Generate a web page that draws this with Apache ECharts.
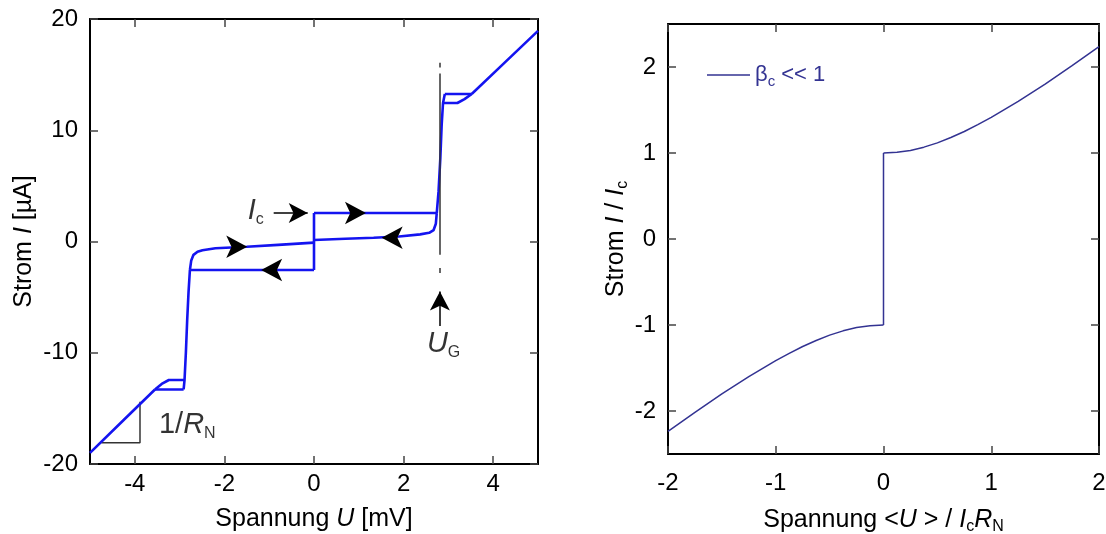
<!DOCTYPE html>
<html><head><meta charset="utf-8">
<script src="https://cdn.jsdelivr.net/npm/echarts@6/dist/echarts.min.js"></script>
<style>html,body{margin:0;padding:0;background:#fff}#c{width:1106px;height:534px}</style>
</head><body><div id="c"></div>
<script>
// ---------- Left panel: measured I-V curve (U in mV, I in µA) ----------
const negNormal    = [[-5,-19.0],[-4.3,-16.25],[-3.55,-13.3]];
const negLowerFlat = [[-3.55,-13.3],[-2.91,-13.3]];
const negUpperFlat = [[-3.55,-13.3],[-3.4,-12.8],[-3.24,-12.45],[-2.89,-12.45]];
const negGap       = [[-2.91,-13.3],[-2.89,-12.45],[-2.86,-10],[-2.83,-7],[-2.8,-4.5],[-2.77,-2.56]];
const negSubgap    = [[-2.77,-2.56],[-2.74,-1.7],[-2.69,-1.2],[-2.6,-0.92],[-2.49,-0.78],[-2.2,-0.6],[-1.5,-0.47],[-0.8,-0.3],[0,-0.1]];
const negQP        = [[-2.77,-2.56],[0,-2.56]];
const zeroBranch   = [[0,-2.56],[0,2.56]];
const posQP        = [[0,2.56],[2.74,2.56]];
const posSubgap    = [[0,0.13],[0.7,0.25],[1.33,0.34],[1.9,0.45],[2.37,0.64],[2.57,0.78],[2.67,1.03],[2.72,1.6],[2.74,2.56]];
const posGap       = [[2.74,2.56],[2.78,4.5],[2.82,7.5],[2.85,10.5],[2.88,12.45],[2.92,13.26]];
const posUpperFlat = [[2.92,13.26],[3.52,13.26]];
const posLowerFlat = [[2.88,12.45],[3.2,12.45],[3.36,12.8],[3.52,13.26]];
const posNormal    = [[3.52,13.26],[4.25,16.06],[5,18.93]];

const leftXTicks = [-4,-2,0,2,4];
const leftYTicks = [-20,-10,0,10,20];

// annotations (data coordinates)
const arrowsRight = [[1.16,2.56],[-1.49,-0.47]];
const arrowsLeft  = [[1.51,0.34],[-1.18,-2.56]];
const icArrow = [[-0.9,2.56],[-0.14,2.56]];
const ugArrow = [[2.81,-7.6],[2.81,-4.5]];
const ugLine  = [[[2.81,16.06],[2.81,15.64]],[[2.81,15.1],[2.81,-1.2]],[[2.81,-2.38],[2.81,-2.83]]];
const slopeTri = [[-4.745,-18.09],[-3.884,-18.09],[-3.884,-14.4]];
const icLabelPos = [-1.48,2.75];
const ugLabelPos = [2.52,-9.2];
const rnLabelPos = [-3.46,-16.5];

// ---------- Right panel: RSJ model, beta_c << 1 ----------
const rightNegU = [-2,-1.75,-1.5,-1.25,-1,-0.875,-0.75,-0.625,-0.5,-0.375,-0.25,-0.125,0];
const rightNegI = [-2.236,-2.015,-1.8,-1.6,-1.414,-1.33,-1.25,-1.18,-1.118,-1.068,-1.03,-1.008,-1];
const rightJumpU = [0,0];
const rightJumpI = [-1,1];
const rightPosU = [0,0.125,0.25,0.375,0.5,0.625,0.75,0.875,1,1.25,1.5,1.75,2];
const rightPosI = [1,1.008,1.03,1.068,1.118,1.18,1.25,1.33,1.414,1.6,1.8,2.015,2.236];
const rightXTicks = [-2,-1,0,1,2];
const rightYTicks = [-2,-1,0,1,2];

const FONT = '"Liberation Sans", Arial, sans-serif';
const BLUE = '#1414f0';
const NAVY = '#333392';
const TICKFS = 24, TITLEFS = 25;

const rich = {
  i:{fontStyle:'italic',fontSize:TITLEFS,fontFamily:FONT,color:'#000',lineHeight:30,verticalAlign:'middle'},
  s:{fontSize:16,fontFamily:FONT,color:'#000',lineHeight:14,verticalAlign:'bottom'}
};
const annRich = {
  t:{fontSize:29,fontFamily:FONT,color:'#000',lineHeight:34,verticalAlign:'middle'},
  i:{fontStyle:'italic',fontSize:29,fontFamily:FONT,color:'#000',lineHeight:34,verticalAlign:'middle'},
  s:{fontSize:16,fontFamily:FONT,color:'#000',lineHeight:12,verticalAlign:'bottom'}
};

function mkX(gi, min, max, ticks, pos, name, gap, margin){
  const main = pos==='bottom';
  return {
    type:'value', gridIndex:gi, position:pos, min:min, max:max,
    axisLine:{show:true,onZero:false,lineStyle:{color:'#000',width:2}},
    axisTick:{show:true,inside:true,length:8,customValues:ticks,lineStyle:{color:'#444',width:1.5}},
    axisLabel:{show:main,customValues:ticks,color:'#000',fontSize:TICKFS,fontFamily:FONT,margin:margin||10},
    splitLine:{show:false},
    name: main?name:'', nameLocation:'middle', nameGap:gap,
    nameTextStyle:{fontSize:TITLEFS,fontFamily:FONT,color:'#000',lineHeight:30,rich:rich}
  };
}
function mkY(gi, min, max, ticks, pos, name, gap){
  const main = pos==='left';
  return {
    type:'value', gridIndex:gi, position:pos, min:min, max:max,
    axisLine:{show:true,onZero:false,lineStyle:{color:'#000',width:2}},
    axisTick:{show:true,inside:true,length:8,customValues:ticks,lineStyle:{color:'#444',width:1.5}},
    axisLabel:{show:main,customValues:ticks,color:'#000',fontSize:TICKFS,fontFamily:FONT,margin:12},
    splitLine:{show:false},
    name: main?name:'', nameLocation:'middle', nameGap:gap,
    nameTextStyle:{fontSize:TITLEFS,fontFamily:FONT,color:'#000',lineHeight:30,rich:rich}
  };
}

function curve(d){
  return {type:'line',xAxisIndex:0,yAxisIndex:0,data:d,showSymbol:false,symbol:'none',
    lineStyle:{color:BLUE,width:2.6},z:3,silent:true};
}

const leftBranches = [negNormal,negLowerFlat,negUpperFlat,negGap,negSubgap,negQP,zeroBranch,posQP,posSubgap,posGap,posUpperFlat,posLowerFlat,posNormal];

const series = [];
// slope triangle
series.push({type:'line',xAxisIndex:0,yAxisIndex:0,data:slopeTri,symbol:'none',
  lineStyle:{color:'#333',width:1.5},z:2,silent:true});
leftBranches.forEach(b=>series.push(curve(b)));
// direction arrows
series.push({type:'scatter',xAxisIndex:0,yAxisIndex:0,data:arrowsRight,symbol:'arrow',
  symbolSize:[17,21],symbolRotate:-90,itemStyle:{color:'#000',opacity:1},z:5,silent:true});
series.push({type:'scatter',xAxisIndex:0,yAxisIndex:0,data:arrowsLeft,symbol:'arrow',
  symbolSize:[17,21],symbolRotate:90,itemStyle:{color:'#000',opacity:1},z:5,silent:true});
// Ic & UG arrows and UG line
series.push({type:'line',xAxisIndex:0,yAxisIndex:0,data:[],silent:true,
  markLine:{silent:true,symbol:['none','arrow'],symbolSize:[15,19],animation:false,
    label:{show:false},lineStyle:{color:'#000',width:1.5,type:'solid'},
    data:[[{coord:icArrow[0]},{coord:icArrow[1]}],[{coord:ugArrow[0]},{coord:ugArrow[1]}]]}});
series.push({type:'line',xAxisIndex:0,yAxisIndex:0,data:[],silent:true,
  markLine:{silent:true,symbol:['none','none'],animation:false,
    label:{show:false},lineStyle:{color:'#333',width:1.5,type:'solid'},
    data:ugLine.map(s=>[{coord:s[0]},{coord:s[1]}])}});
// text annotations
function txt(pos, str){
  return {type:'scatter',xAxisIndex:0,yAxisIndex:0,data:[pos],symbolSize:0,silent:true,z:6,
    label:{show:true,position:'right',distance:0,formatter:str,rich:annRich}};
}
series.push(txt(icLabelPos,'{i|I}{s|c}'));
series.push(txt(ugLabelPos,'{i|U}{s|G}'));
series.push(txt(rnLabelPos,'{t|1/}{i|R}{s|N}'));

// right panel
function rcurve(u, i, name){
  return {type:'line',name:name,xAxisIndex:2,yAxisIndex:2,
    data:u.map((x,k)=>[x,i[k]]),symbol:'none',showSymbol:false,
    lineStyle:{color:NAVY,width:1.5},itemStyle:{color:NAVY},silent:true};
}
series.push(rcurve(rightNegU,rightNegI,'neg'));
series.push(rcurve(rightJumpU,rightJumpI,'jump'));
series.push(rcurve(rightPosU,rightPosI,'βc'));

const option = {
  animation:false,
  backgroundColor:'#fff',
  textStyle:{fontFamily:FONT},
  grid:[
    {left:90,top:19,width:448,height:445,outerBoundsMode:'none',containLabel:false},
    {left:668,top:24,width:431,height:430,outerBoundsMode:'none',containLabel:false}
  ],
  legend:{show:true,data:['βc'],left:702,top:59,icon:'rect',itemWidth:43,itemHeight:1.5,itemGap:11,
    itemStyle:{color:NAVY},
    formatter:'{b|β}{s|c} << 1',
    textStyle:{color:NAVY,fontSize:22,fontFamily:FONT,
      rich:{b:{fontSize:22,color:NAVY,fontFamily:FONT,lineHeight:28,verticalAlign:'middle'},
            s:{fontSize:15,color:NAVY,fontFamily:FONT,lineHeight:12,verticalAlign:'bottom'}}}},
  xAxis:[
    mkX(0,-5,5,leftXTicks,'bottom','Spannung {i|U} [mV]',40,8),
    mkX(0,-5,5,leftXTicks,'top','',0),
    mkX(1,-2,2,rightXTicks,'bottom','Spannung <{i|U} > / {i|I}{s|c}{i|R}{s|N}',51,17),
    mkX(1,-2,2,rightXTicks,'top','',0)
  ],
  yAxis:[
    mkY(0,-20,20,leftYTicks,'left','Strom {i|I} [µA]',44),
    mkY(0,-20,20,leftYTicks,'right','',0),
    mkY(1,-2.5,2.5,rightYTicks,'left','Strom {i|I} / {i|I}{s|c}',36),
    mkY(1,-2.5,2.5,rightYTicks,'right','',0)
  ],
  series:series
};
const chart = echarts.init(document.getElementById('c'),null,{renderer:'canvas'});
chart.setOption(option);
</script></body></html>
